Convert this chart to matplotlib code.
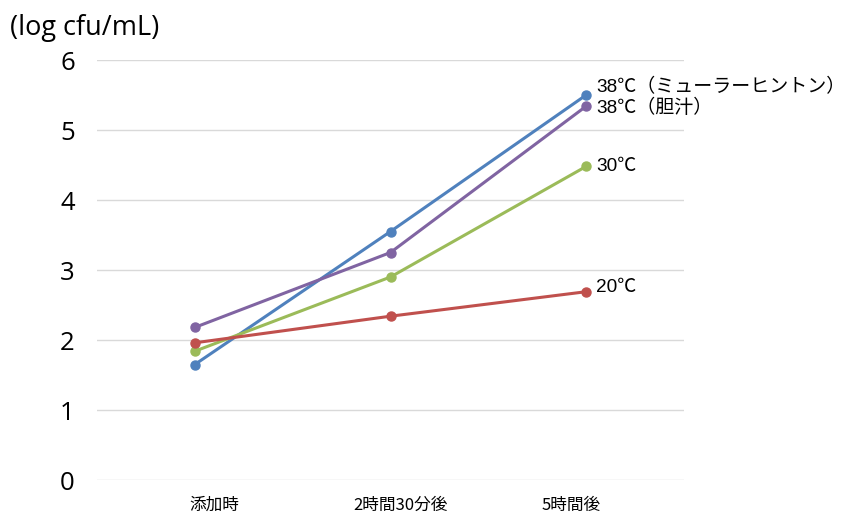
import numpy as np
import matplotlib
matplotlib.use('Agg')
import matplotlib.pyplot as plt
import matplotlib.transforms as mtransforms

plt.rcParams['font.family'] = ['Noto Sans CJK JP', 'DejaVu Sans']

# data
categories = ['添加時', '2時間30分後', '5時間後']
labels = ['38℃（ミューラーヒントン）', '38℃（胆汁）', '30℃', '20℃']
mueller = [1.65, 3.55, 5.50]
bile = [2.18, 3.25, 5.34]
t30 = [1.84, 2.90, 4.48]
t20 = [1.96, 2.34, 2.69]
series = [mueller, bile, t30, t20]
colors = ['#4F81BD', '#8064A2', '#9BBB59', '#C0504D']
label_dy = [6, -1, 0, 3]
# x tick labels in the original sit a little off their category centre (pixels)
tick_shift = [19, 10, -15]

fig = plt.figure(figsize=(8.46, 5.21), dpi=100)
ax = fig.add_axes([97/846, 1-480/521, 587/846, 420/521])

x = np.arange(len(categories))
for vals, col in zip(series, colors):
    ax.plot(x, vals, color=col, lw=2.2, marker='o', ms=6.5, solid_capstyle='round')

for vals, lab, col, dy in zip(series, labels, colors, label_dy):
    ax.annotate(lab, (x[-1], vals[-1]), xytext=(7, dy), textcoords='offset points',
                va='center', ha='left', fontsize=13.7,
                family=['Liberation Sans', 'Noto Sans CJK JP'])

ax.set_xlim(-0.5, 2.5)
ax.set_ylim(0, 6)
ax.set_yticks(range(7))
ax.set_xticks(x)
ax.set_xticklabels(categories, fontsize=12)
ax.tick_params(axis='y', labelsize=18.5, length=0, pad=16)
ax.tick_params(axis='x', length=0, pad=12)
for lab in ax.get_yticklabels():
    lab.set_family(['Open Sans', 'DejaVu Sans'])
for lab, dx in zip(ax.get_xticklabels(), tick_shift):
    lab.set_transform(lab.get_transform() +
                      mtransforms.ScaledTranslation(dx/100, 0, fig.dpi_scale_trans))
ax.grid(axis='y', color='#D9D9D9', lw=1)
ax.set_axisbelow(True)
for s in ax.spines.values():
    s.set_visible(False)

fig.text(10/846, 1-28/521, '(log cfu/mL)', fontsize=19.5, va='center', ha='left',
         family=['Open Sans', 'DejaVu Sans'])

fig.savefig('out.png', dpi=100)
